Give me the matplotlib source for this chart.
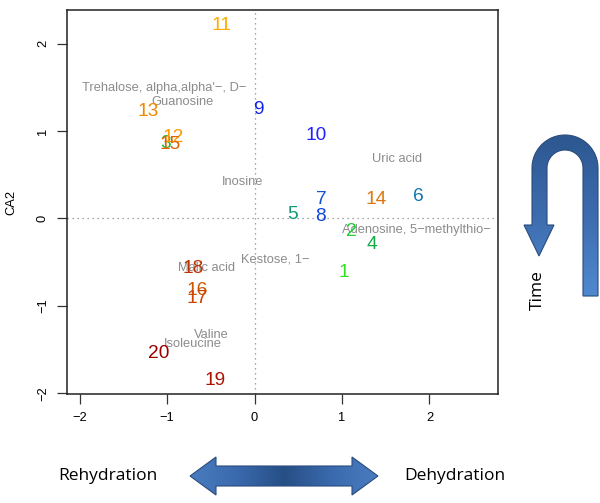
import numpy as np
import matplotlib
matplotlib.use("Agg")
from matplotlib import pyplot as plt
from matplotlib.patches import Polygon
from matplotlib.colors import LinearSegmentedColormap

plt.rcParams['font.family'] = ['Liberation Sans', 'DejaVu Sans']

# sample scores (numbered points)
sample_ids = [str(i) for i in range(1, 21)]
sample_x = [1.02, 1.11, -1.02, 1.34, 0.43, 1.87, 0.76, 0.76, 0.04, 0.70,
            -0.38, -0.93, -1.21, 1.39, -0.97, -0.66, -0.66, -0.70, -0.45, -1.09]
sample_y = [-0.62, -0.15, 0.86, -0.30, 0.04, 0.25, 0.22, 0.02, 1.25, 0.95,
            2.21, 0.92, 1.22, 0.22, 0.84, -0.82, -0.92, -0.57, -1.85, -1.54]
sample_colors = ['#33e022', '#22cc33', '#22b844', '#11aa44', '#119977',
                 '#1177aa', '#1155cc', '#1144dd', '#1122ee', '#2222ff',
                 '#ffaa00', '#ff9900', '#ee8800', '#dd7711', '#dd6600',
                 '#cc5500', '#cc4400', '#bb3300', '#aa1100', '#990000']

# metabolite scores (grey labels)
metabolites = ['Trehalose, alpha,alpha\'\u2212, D\u2212', 'Guanosine', 'Inosine',
               'Uric acid', 'Adenosine, 5\u2212methylthio\u2212', 'Kestose, 1\u2212',
               'Malic acid', 'Valine', 'Isoleucine']
met_x = [-1.03, -0.82, -0.14, 1.63, 1.85, 0.24, -0.55, -0.49, -0.70]
met_y = [1.49, 1.33, 0.42, 0.68, -0.13, -0.47, -0.57, -1.33, -1.43]

W, H = 600, 503
fig = plt.figure(figsize=(W / 100, H / 100), dpi=100)
ax = fig.add_axes([67 / W, 1 - 394 / H, (498 - 67) / W, (394 - 10) / H])

ax.axhline(0, color='#888888', ls=(0, (1, 3)), lw=0.9, zorder=0)
ax.axvline(0, color='#888888', ls=(0, (1, 3)), lw=0.9, zorder=0)

for name, x, y in zip(metabolites, met_x, met_y):
    ax.text(x, y, name, color='#8c8c8c', fontsize=9.3, ha='center', va='center')
for sid, x, y, c in zip(sample_ids, sample_x, sample_y, sample_colors):
    ax.text(x, y, sid, color=c, fontsize=13.8, ha='center', va='center')

ax.set_xlim(-2.143, 2.783)
ax.set_ylim(-2.006, 2.383)
ax.set_xticks([-2, -1, 0, 1, 2])
ax.set_yticks([-2, -1, 0, 1, 2])
ax.set_xticklabels(['\u22122', '\u22121', '0', '1', '2'])
ax.set_yticklabels(['\u22122', '\u22121', '0', '1', '2'], rotation=90, va='center')
ax.tick_params(direction='out', length=7, width=0.9, labelsize=9.3, pad=6, color='#333333')
for s in ax.spines.values():
    s.set_linewidth(1.1)
    s.set_color('#222222')
ax.set_xlabel('CA1', fontsize=9.3, labelpad=30)
ax.set_ylabel('CA2', fontsize=9.3, labelpad=14)

# overlay in pixel coordinates for the arrows
ov = fig.add_axes([0, 0, 1, 1])
ov.set_xlim(0, W)
ov.set_ylim(H, 0)
ov.axis('off')
ov.patch.set_alpha(0)


def grad_patch(pts, cmap, horizontal):
    poly = Polygon(pts, closed=True, facecolor='none', edgecolor='#2a4c7c', lw=0.8, zorder=3)
    ov.add_patch(poly)
    pts = np.array(pts)
    x0, x1 = pts[:, 0].min(), pts[:, 0].max()
    y0, y1 = pts[:, 1].min(), pts[:, 1].max()
    if horizontal:
        t = np.abs(np.linspace(-1, 1, 200))[None, :]
    else:
        t = np.linspace(0, 1, 200)[:, None]
    im = ov.imshow(t, cmap=cmap, extent=(x0, x1, y1, y0), aspect='auto', zorder=2)
    im.set_clip_path(poly)


# horizontal double arrow
harrow = [(190, 476), (216, 457), (216, 466), (352, 466), (352, 457), (378, 476),
          (352, 495), (352, 486), (216, 486), (216, 495)]
cm_h = LinearSegmentedColormap.from_list('h', ['#274f86', '#3a6aad', '#4a7cc0'])
grad_patch(harrow, cm_h, True)
ov.set_xlim(0, W)
ov.set_ylim(H, 0)

# U-turn arrow (time)
cx, cy = 565, 168
th = np.linspace(0, np.pi, 40)
outer = [(cx + 33 * np.cos(a), cy - 33 * np.sin(a)) for a in th]
inner = [(cx + 18 * np.cos(a), cy - 18 * np.sin(a)) for a in th[::-1]]
uarrow = [(598, 296)] + outer + [(532, 225), (524, 225), (539, 256), (554, 225), (547, 225)] \
    + inner + [(583, 296)]
cm_v = LinearSegmentedColormap.from_list('v', ['#2c5790', '#3d6cae', '#5089d0'])
grad_patch(uarrow, cm_v, False)
ov.set_xlim(0, W)
ov.set_ylim(H, 0)

ov.text(538, 290, 'Time', rotation=90, ha='center', va='center', fontsize=12.5,
        family=['Open Sans', 'DejaVu Sans'])
ov.text(108, 476, 'Rehydration', ha='center', va='center', fontsize=12.5,
        family=['Open Sans', 'DejaVu Sans'])
ov.text(455, 476, 'Dehydration', ha='center', va='center', fontsize=12.5,
        family=['Open Sans', 'DejaVu Sans'])

fig.savefig('out.png', dpi=100)
